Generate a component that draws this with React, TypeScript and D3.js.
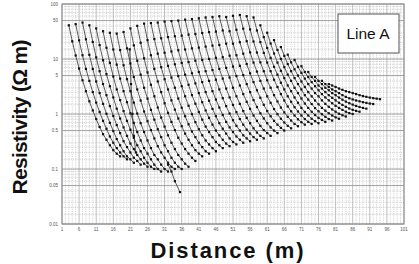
import React from "react";
import * as d3 from "d3";

const W = 419;
const H = 264;

const xTickValues = [1, 6, 11, 16, 21, 26, 31, 36, 41, 46, 51, 56, 61, 66, 71, 76, 81, 86, 91, 96, 101];
const yTickValues = [100, 50, 10, 5, 1, 0.5, 0.1, 0.05, 0.01];
const yTickLabels = ["100", "50", "10", "5", "1", "0.5", "0.1", "0.05", "0.01"];

// start distance of each sounding curve (points follow at 1 m steps)
const seriesStart = [3, 5, 7, 9, 11, 13, 15, 17, 19, 21, 23, 25, 27, 29, 31, 33, 35, 37, 39, 41, 43, 45, 47, 49, 51, 53, 55, 57, 59, 61, 63, 65, 67, 69, 71, 73, 75, 77, 79];

const seriesValues = [
  [41, 21, 11.6, 6.7, 4.1, 2.6, 1.7, 1.16, 0.81, 0.58, 0.43, 0.34, 0.27, 0.22, 0.19, 0.17],
  [43, 21.8, 11.7, 6.6, 4.0, 2.5, 1.61, 1.09, 0.75, 0.54, 0.39, 0.3, 0.24, 0.2, 0.17, 0.15],
  [46, 22.8, 11.9, 6.6, 3.9, 2.4, 1.53, 1.01, 0.69, 0.49, 0.35, 0.27, 0.21, 0.17, 0.15, 0.13],
  [41, 20.4, 10.7, 6.0, 3.5, 2.2, 1.39, 0.92, 0.63, 0.45, 0.32, 0.25, 0.2, 0.16, 0.14, 0.12],
  [36, 17.9, 9.5, 5.3, 3.2, 2.0, 1.25, 0.83, 0.57, 0.4, 0.29, 0.23, 0.18, 0.15, 0.125, 0.11],
  [32, 16.0, 8.5, 4.8, 2.8, 1.79, 1.13, 0.75, 0.52, 0.37, 0.27, 0.21, 0.16, 0.13, 0.11, 0.1],
  [30, 14.9, 7.9, 4.4, 2.6, 1.64, 1.03, 0.69, 0.47, 0.33, 0.24, 0.19, 0.15, 0.12, 0.1, 0.09],
  [29, 14.5, 7.7, 4.3, 2.6, 1.61, 1.02, 0.68, 0.47, 0.33, 0.24, 0.18, 0.15, 0.12, 0.1, 0.09],
  [31, 15.6, 8.3, 4.7, 2.8, 1.76, 1.11, 0.74, 0.51, 0.36, 0.26, 0.2, 0.16, 0.13, 0.11, 0.1],
  [36, 17.7, 9.3, 5.2, 3.0, 1.9, 1.19, 0.79, 0.53, 0.38, 0.27, 0.21, 0.16, 0.13, 0.11, 0.1],
  [40, 19.7, 10.3, 5.7, 3.4, 2.1, 1.31, 0.86, 0.59, 0.41, 0.3, 0.23, 0.18, 0.15, 0.125, 0.11],
  [44, 22, 11.7, 6.6, 3.9, 2.5, 1.57, 1.05, 0.72, 0.51, 0.37, 0.29, 0.23, 0.19, 0.16, 0.14],
  [45, 23, 12.5, 7.1, 4.3, 2.8, 1.77, 1.2, 0.83, 0.6, 0.44, 0.34, 0.27, 0.22, 0.19, 0.17],
  [46, 23.8, 13.0, 7.5, 4.6, 3.0, 1.91, 1.3, 0.91, 0.65, 0.48, 0.38, 0.3, 0.25, 0.21, 0.19],
  [48, 25, 13.7, 8.0, 4.9, 3.2, 2.1, 1.41, 0.99, 0.71, 0.53, 0.41, 0.33, 0.28, 0.24, 0.21],
  [49, 25.9, 14.4, 8.5, 5.2, 3.4, 2.2, 1.54, 1.09, 0.79, 0.59, 0.47, 0.38, 0.31, 0.27, 0.24],
  [50, 26.6, 14.9, 8.8, 5.5, 3.6, 2.4, 1.64, 1.16, 0.85, 0.64, 0.5, 0.41, 0.34, 0.29, 0.26],
  [52, 27.8, 15.6, 9.3, 5.8, 3.8, 2.5, 1.74, 1.24, 0.91, 0.68, 0.54, 0.44, 0.36, 0.31, 0.28],
  [53, 28.4, 16.1, 9.6, 6.0, 4.0, 2.6, 1.83, 1.31, 0.96, 0.72, 0.57, 0.47, 0.39, 0.34, 0.3],
  [55, 29.6, 16.8, 10.0, 6.3, 4.2, 2.8, 1.94, 1.39, 1.02, 0.77, 0.61, 0.5, 0.41, 0.36, 0.32],
  [57, 30.8, 17.5, 10.5, 6.6, 4.4, 2.9, 2.0, 1.46, 1.08, 0.81, 0.64, 0.52, 0.44, 0.38, 0.34],
  [58, 31.5, 18.0, 10.8, 6.9, 4.6, 3.0, 2.1, 1.53, 1.13, 0.85, 0.68, 0.55, 0.46, 0.4, 0.36],
  [60, 33, 19.0, 11.5, 7.3, 4.9, 3.3, 2.3, 1.67, 1.24, 0.94, 0.75, 0.61, 0.51, 0.45, 0.4],
  [58, 32, 19.0, 11.7, 7.5, 5.1, 3.5, 2.5, 1.79, 1.34, 1.03, 0.83, 0.68, 0.57, 0.5, 0.45],
  [61, 34, 20.2, 12.5, 8.1, 5.5, 3.8, 2.7, 1.97, 1.47, 1.13, 0.91, 0.75, 0.64, 0.56, 0.5],
  [63, 35.6, 21.1, 13.2, 8.6, 5.9, 4.0, 2.9, 2.1, 1.6, 1.23, 0.99, 0.82, 0.7, 0.61, 0.55],
  [60, 34.5, 20.8, 13.1, 8.7, 6.0, 4.1, 3.0, 2.2, 1.69, 1.31, 1.07, 0.89, 0.76, 0.66, 0.6],
  [57, 33, 20.3, 12.9, 8.6, 6.0, 4.2, 3.1, 2.3, 1.76, 1.37, 1.12, 0.94, 0.8, 0.71, 0.64],
  [41, 25, 15.9, 10.5, 7.2, 5.2, 3.7, 2.8, 2.1, 1.67, 1.33, 1.11, 0.94, 0.81, 0.72, 0.66],
  [30, 19.1, 12.6, 8.6, 6.1, 4.5, 3.3, 2.6, 2.0, 1.6, 1.29, 1.09, 0.94, 0.82, 0.74, 0.68],
  [22, 14.6, 10.0, 7.1, 5.2, 4.0, 3.0, 2.4, 1.91, 1.55, 1.29, 1.1, 0.96, 0.85, 0.78, 0.72],
  [16.5, 11.4, 8.1, 6.0, 4.5, 3.5, 2.8, 2.2, 1.83, 1.52, 1.28, 1.12, 0.99, 0.89, 0.81, 0.76],
  [12, 8.7, 6.5, 5.0, 3.9, 3.1, 2.5, 2.1, 1.76, 1.5, 1.29, 1.15, 1.03, 0.94, 0.87, 0.82],
  [9.6, 7.2, 5.6, 4.4, 3.5, 2.9, 2.4, 2.1, 1.77, 1.53, 1.35, 1.21, 1.1, 1.01, 0.95, 0.9],
  [7.4, 5.8, 4.7, 3.8, 3.2, 2.7, 2.3, 2.0, 1.77, 1.57, 1.41, 1.29, 1.19, 1.1, 1.04, 1.0],
  [5.8, 4.7, 4.0, 3.3, 2.9, 2.5, 2.2, 1.97, 1.77, 1.6, 1.46, 1.35, 1.26, 1.19, 1.14, 1.1],
  [4.7, 4.0, 3.5, 3.0, 2.7, 2.4, 2.2, 1.99, 1.82, 1.68, 1.57, 1.48, 1.4, 1.34, 1.29, 1.25],
  [4.0, 3.5, 3.1, 2.8, 2.6, 2.4, 2.2, 2.05, 1.93, 1.84, 1.76, 1.7, 1.64, 1.59, 1.55, 1.52],
  [3.5, 3.3, 3.1, 2.9, 2.75, 2.6, 2.5, 2.4, 2.3, 2.2, 2.12, 2.05, 1.99, 1.94, 1.9, 1.86],
];

// irregular curves
const spikeX = [20.8, 21.2, 21.6, 22, 22.6];
const spikeV = [15, 3.5, 1.0, 0.4, 0.2];
const tailX = [32, 33, 34, 35.5];
const tailV = [0.12, 0.09, 0.06, 0.038];

const PL = 62, PR = 404, PT = 4, PB = 224;

export default function App() {
  const x = d3.scaleLinear().domain([1, 101]).range([PL, PR]);
  const y = d3.scaleLog().domain([0.01, 100]).range([PB, PT]);

  const line = d3
    .line<[number, number]>()
    .x((d) => x(d[0]))
    .y((d) => y(d[1]));

  const curves: [number, number][][] = seriesValues.map((vals, i) =>
    vals.map((v, j) => [seriesStart[i] + j, v] as [number, number])
  );
  curves.push(spikeX.map((d, i) => [d, spikeV[i]] as [number, number]));
  curves.push(tailX.map((d, i) => [d, tailV[i]] as [number, number]));

  const minorX = d3.range(1, 102);
  const minorY: number[] = [];
  [0.01, 0.1, 1, 10].forEach((dec) => {
    for (let m = 1; m <= 9; m++) minorY.push(dec * m);
    [1.5, 2.5].forEach((m) => minorY.push(dec * m));
  });

  return (
    <svg
      width={W}
      height={H}
      style={{ position: "absolute", left: 0, top: 0, background: "#fff" }}
      fontFamily="'Liberation Sans', Arial, sans-serif"
    >
      <rect x={0} y={0} width={W} height={H} fill="#fff" />
      {/* grid */}
      <g>
        {minorX.map((d) => (
          <line
            key={"vx" + d}
            x1={x(d)}
            x2={x(d)}
            y1={PT}
            y2={PB}
            stroke={(d - 1) % 5 === 0 ? "#9a9a9a" : "#bcbcbc"}
            strokeWidth={0.65}
            strokeDasharray={(d - 1) % 5 === 0 ? "none" : "1.2,1"}
          />
        ))}
        {minorY.map((v, i) => (
          <line
            key={"hy" + i}
            x1={PL}
            x2={PR}
            y1={y(v)}
            y2={y(v)}
            stroke="#bcbcbc"
            strokeWidth={0.65}
            strokeDasharray="1.2,1"
          />
        ))}
        {yTickValues.map((v) => (
          <line key={"hm" + v} x1={PL} x2={PR} y1={y(v)} y2={y(v)} stroke="#8e8e8e" strokeWidth={0.75} />
        ))}
        <rect x={PL} y={PT} width={PR - PL} height={PB - PT} fill="none" stroke="#888" strokeWidth={1} />
      </g>

      {/* tick labels */}
      <g fontSize={4.5} fill="#555">
        {xTickValues.map((d) => (
          <text key={"xt" + d} x={x(d)} y={230.5} textAnchor="middle">
            {d}
          </text>
        ))}
        {yTickValues.map((v, i) => (
          <text key={"yt" + v} x={58} y={y(v) + 1.8} textAnchor="end">
            {yTickLabels[i]}
          </text>
        ))}
      </g>

      {/* data */}
      <g>
        {curves.map((c, i) => (
          <path key={"c" + i} d={line(c) || ""} fill="none" stroke="#262626" strokeWidth={0.75} />
        ))}
        {curves.map((c, i) =>
          c.map((p, j) => (
            <rect key={"p" + i + "-" + j} x={x(p[0]) - 1.1} y={y(p[1]) - 1.1} width={2.2} height={2.2} fill="#111" />
          ))
        )}
      </g>

      {/* legend box */}
      <rect x={338} y={14} width={61} height={39} fill="#fff" stroke="#555" strokeWidth={1} />
      <text x={368} y={39} textAnchor="middle" fontSize={15.5} fill="#111">
        Line A
      </text>

      {/* axis titles */}
      <text x={227} y={258} textAnchor="middle" fontSize={22} fontWeight="bold" fill="#111" textLength={153} lengthAdjust="spacing">
        Distance (m)
      </text>
      <text
        transform="translate(27,117) rotate(-90)"
        textAnchor="middle"
        fontSize={21}
        fontWeight="bold"
        fill="#111"
        textLength={155}
        lengthAdjust="spacing"
      >
        Resistivity (Ω m)
      </text>
    </svg>
  );
}
